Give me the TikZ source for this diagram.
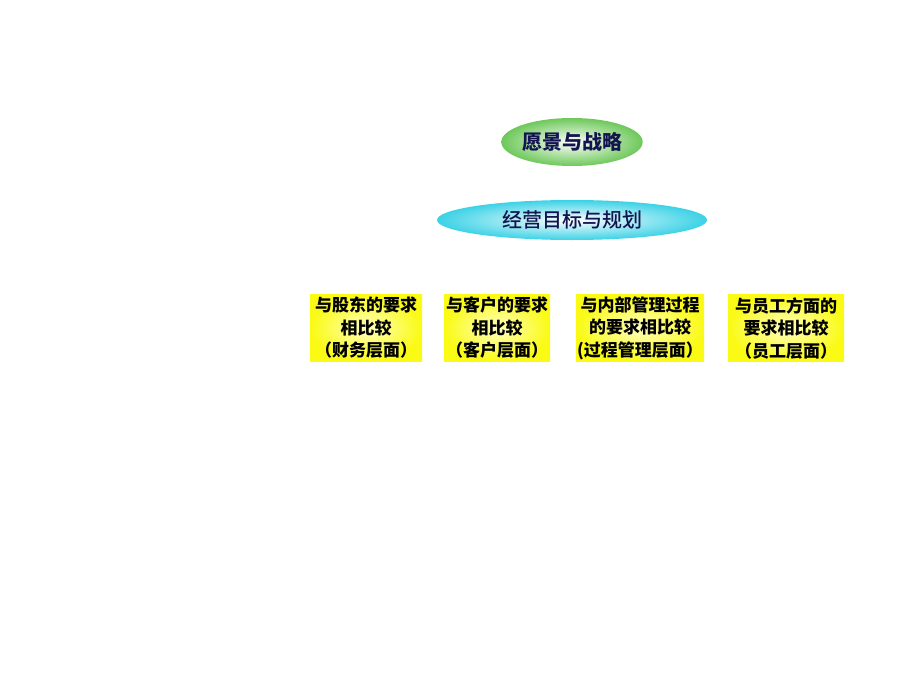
\documentclass[tikz,border=0pt]{standalone}
\usepackage{fontspec}
\usepackage{tikz}
\usetikzlibrary{shapes.geometric, positioning}
\newfontfamily\cjk{Noto Sans CJK SC}
\newfontfamily\cjkmed{Noto Sans CJK SC Medium}
\definecolor{navy}{RGB}{20,20,80}
\definecolor{leafgreen}{RGB}{110,200,90}
\definecolor{skycyan}{RGB}{60,210,230}
\definecolor{boxyellow}{RGB}{250,250,20}

\tikzset{
  goal/.style={ellipse, inner sep=0pt, text=navy, font=\cjk\bfseries\fontsize{20}{24}\selectfont},
  compare/.style={rectangle, inner sep=0pt, align=center,
    shading=radial, inner color=yellow!25, outer color=boxyellow,
    font=\cjk\bfseries\fontsize{17}{22.5}\selectfont}
}

\begin{document}
\begin{tikzpicture}[x=1pt, y=-1pt]
    \useasboundingbox (0,0) rectangle (920,690);
    \node[goal, minimum width=117pt, minimum height=48pt,
          shading=radial, inner color=white, outer color=leafgreen] (vision) at (572,142) {愿景与战略};
    \node[goal, minimum width=270pt, minimum height=40pt, font=\cjkmed\fontsize{20}{24}\selectfont,
          shading=radial, inner color=white, outer color=skycyan] (plan) at (572,220) {经营目标与规划};

    \node[compare, minimum width=112pt, minimum height=67pt] (finance) at (366,328)
        {与股东的要求\\相比较\\（财务层面）};
    \node[compare, minimum width=106pt, minimum height=67pt] (customer) at (497,328)
        {与客户的要求\\相比较\\（客户层面）};
    \node[compare, minimum width=128pt, minimum height=67pt] (process) at (640,328)
        {与内部管理过程\\的要求相比较\\(过程管理层面）};
    \node[compare, minimum width=116pt, minimum height=67pt] (staff) at (786,328)
        {与员工方面的\\要求相比较\\（员工层面）};
\end{tikzpicture}
\end{document}
